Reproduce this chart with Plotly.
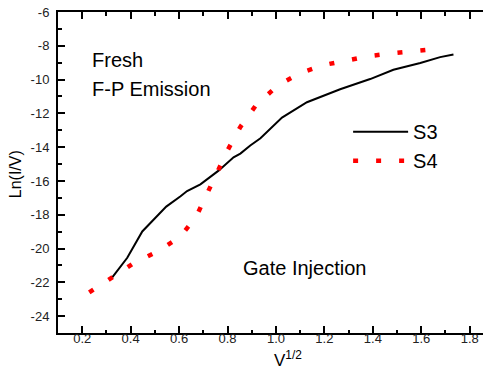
import plotly.graph_objects as go

# S3 (solid black)
s3_x = [0.324, 0.386, 0.448, 0.495, 0.547, 0.606, 0.633, 0.688, 0.743, 0.763, 0.825, 0.853,
        0.894, 0.936, 1.025, 1.128, 1.265, 1.389, 1.485, 1.596, 1.678, 1.733]
s3_y = [-21.71, -20.55, -18.99, -18.28, -17.52, -16.91, -16.6, -16.2, -15.6, -15.39, -14.6, -14.38,
        -13.9, -13.47, -12.25, -11.34, -10.57, -9.97, -9.42, -9.02, -8.67, -8.51]

# S4 (red dotted)
s4_x = [0.229, 0.324, 0.416, 0.509, 0.603, 0.669, 0.714, 0.757, 0.802, 0.853, 0.919, 1.011,
        1.103, 1.197, 1.29, 1.384, 1.477, 1.571, 1.664]
s4_y = [-22.6, -21.74, -20.84, -20.19, -19.32, -18.16, -16.83, -15.49, -14.14, -12.8, -11.49, -10.31,
        -9.6, -9.14, -8.85, -8.61, -8.45, -8.29, -8.19]

x_tickvals = [0.2, 0.4, 0.6, 0.8, 1.0, 1.2, 1.4, 1.6, 1.8]
x_ticktext = ["0.2", "0.4", "0.6", "0.8", "1.0", "1.2", "1.4", "1.6", "1.8"]
y_tickvals = [-24, -22, -20, -18, -16, -14, -12, -10, -8, -6]
y_ticktext = ["-24", "-22", "-20", "-18", "-16", "-14", "-12", "-10", "-8", "-6"]

FONT = "Liberation Sans, Arial, sans-serif"

fig = go.Figure()
fig.add_trace(go.Scatter(x=s3_x, y=s3_y, mode="lines", name="S3",
                         line=dict(color="black", width=2)))
fig.add_trace(go.Scatter(x=s4_x, y=s4_y, mode="lines", name="S4",
                         line=dict(color="#ff0000", width=4.5, dash="5px,18px")))

fig.update_layout(
    width=483, height=361,
    margin=dict(l=50, r=0, t=4, b=36),
    paper_bgcolor="white", plot_bgcolor="white",
    font=dict(family=FONT, color="black", size=13),
    showlegend=True,
    legend=dict(x=0.670, y=0.688, xanchor="left", yanchor="top",
                font=dict(size=20, family=FONT), bgcolor="rgba(0,0,0,0)",
                itemwidth=55, tracegroupgap=0),
    xaxis=dict(range=[0.1, 1.888], tickvals=x_tickvals, ticktext=x_ticktext,
               ticks="inside", ticklen=7, tickwidth=1.5, tickcolor="black",
               showline=True, linecolor="black", linewidth=2, mirror="ticks",
               showgrid=False, zeroline=False, automargin=False,
               ticklabeloverflow="allow", ticklabelstandoff=-8,
               tickfont=dict(size=13, color="#222"),
               minor=dict(dtick=0.1, tick0=0.1, ticks="inside", ticklen=3.5,
                          tickwidth=1.5, tickcolor="black", showgrid=False)),
    yaxis=dict(range=[-25, -6], tickvals=y_tickvals, ticktext=y_ticktext,
               ticks="inside", ticklen=7, tickwidth=1.5, tickcolor="black",
               showline=True, linecolor="black", linewidth=2, mirror=False,
               showgrid=False, zeroline=False, automargin=False,
               ticklabeloverflow="allow", ticklabelstandoff=4,
               tickfont=dict(size=13, color="#222"),
               minor=dict(dtick=1, tick0=-25, ticks="inside", ticklen=3.5,
                          tickwidth=1.5, tickcolor="black", showgrid=False)),
    annotations=[
        dict(x=0.231, y=-8.85, xref="x", yref="y", text="Fresh", showarrow=False,
             xanchor="left", yanchor="middle", font=dict(size=20)),
        dict(x=0.231, y=-10.54, xref="x", yref="y", text="F-P Emission", showarrow=False,
             xanchor="left", yanchor="middle", font=dict(size=20)),
        dict(x=0.857, y=-21.18, xref="x", yref="y", text="Gate Injection", showarrow=False,
             xanchor="left", yanchor="middle", font=dict(size=20)),
        dict(x=-0.099, y=0.495, xref="paper", yref="paper", text="Ln(I/V)",
             showarrow=False, textangle=-90, xanchor="center", yanchor="middle",
             font=dict(size=16)),
        dict(x=0.495, y=-0.080, xref="paper", yref="paper",
             text="V<sup>1/2</sup>", showarrow=False, xanchor="left", yanchor="middle",
             font=dict(size=17)),
    ],
)

fig.write_html("out.html")
